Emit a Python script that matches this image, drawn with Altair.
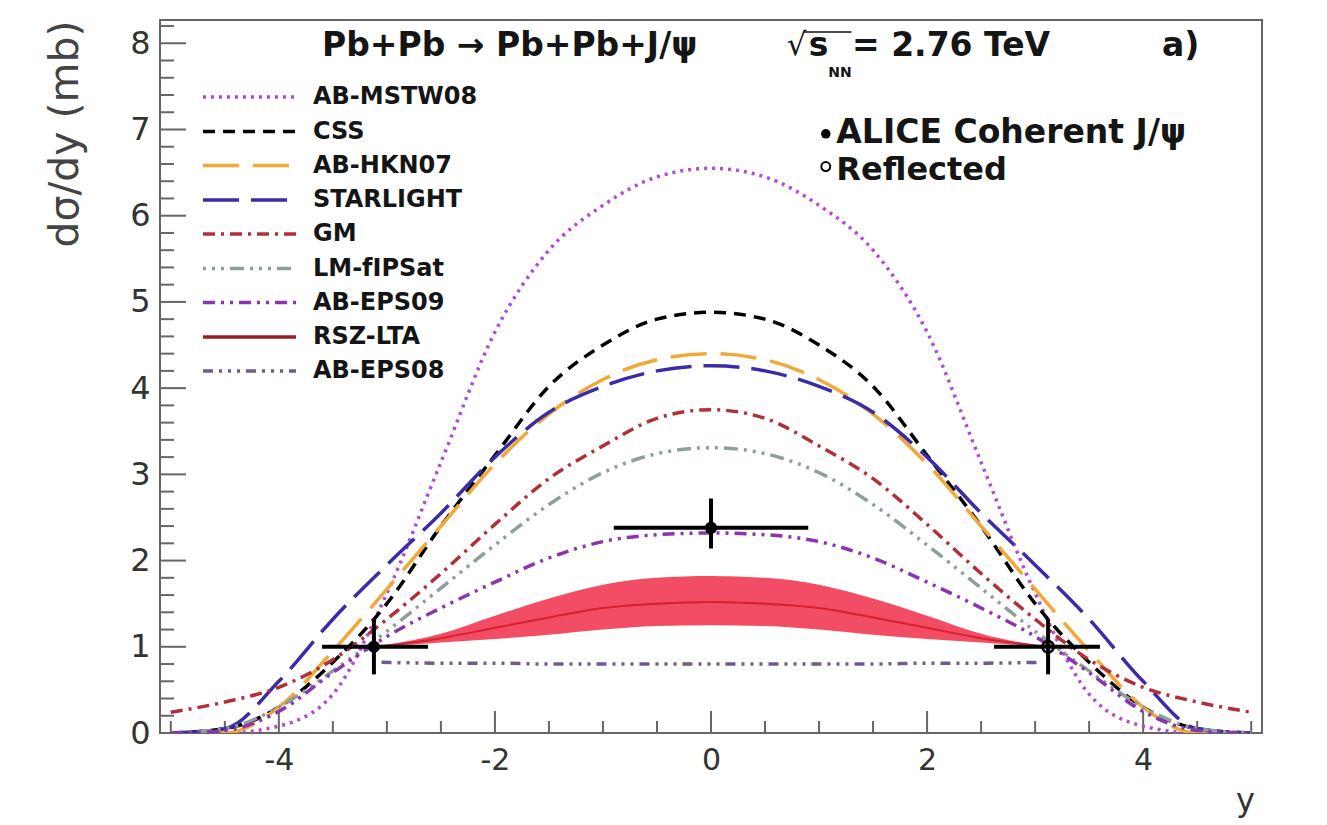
import altair as alt
import pandas as pd

# ---------------- data ----------------
X_DOMAIN = [-5.1, 5.1]
Y_DOMAIN = [0, 8.27]
W, H = 1102, 713

xs = [-5, -4.5, -4, -3.5, -3, -2.5, -2, -1.5, -1, -0.5, 0,
      0.5, 1, 1.5, 2, 2.5, 3, 3.5, 4, 4.5, 5]

ab_mstw08 = [0, 0, 0.08, 0.45, 1.62, 3.14, 4.65, 5.6, 6.12, 6.45, 6.55,
             6.45, 6.12, 5.6, 4.65, 3.14, 1.62, 0.45, 0.08, 0, 0]
css = [0, 0.05, 0.3, 0.82, 1.5, 2.4, 3.22, 4.02, 4.5, 4.8, 4.88,
       4.8, 4.5, 4.02, 3.22, 2.4, 1.5, 0.82, 0.3, 0.05, 0]
ab_hkn07 = [0, 0, 0.3, 0.95, 1.67, 2.4, 3.12, 3.7, 4.1, 4.33, 4.4,
            4.33, 4.1, 3.7, 3.12, 2.4, 1.67, 0.95, 0.3, 0, 0]
starlight = [0, 0.05, 0.6, 1.32, 1.95, 2.55, 3.2, 3.72, 4.02, 4.2, 4.26,
             4.2, 4.02, 3.72, 3.2, 2.55, 1.95, 1.32, 0.6, 0.05, 0]
gm = [0.24, 0.36, 0.53, 0.85, 1.32, 1.85, 2.42, 2.95, 3.33, 3.65, 3.75,
      3.65, 3.33, 2.95, 2.42, 1.85, 1.32, 0.85, 0.53, 0.36, 0.24]
lm_fipsat = [0, 0.05, 0.3, 0.72, 1.18, 1.68, 2.18, 2.65, 3.02, 3.24, 3.31,
             3.24, 3.02, 2.65, 2.18, 1.68, 1.18, 0.72, 0.3, 0.05, 0]
ab_eps09 = [0, 0.03, 0.25, 0.7, 1.12, 1.45, 1.75, 2.03, 2.22, 2.3, 2.32,
            2.3, 2.22, 2.03, 1.75, 1.45, 1.12, 0.7, 0.25, 0.03, 0]

eps08_x = [-3.05, -2.5, -2, -1.5, -1, -0.5, 0, 0.5, 1, 1.5, 2, 2.5, 3.05]
ab_eps08 = [0.82, 0.81, 0.81, 0.8, 0.8, 0.8, 0.8, 0.8, 0.8, 0.8, 0.81, 0.81, 0.82]

rsz_x = [-3.1, -2.5, -2, -1.5, -1, -0.5, 0, 0.5, 1, 1.5, 2, 2.5, 3.1]
rsz_hi = [1.0, 1.15, 1.36, 1.56, 1.72, 1.8, 1.82, 1.8, 1.72, 1.56, 1.36, 1.15, 1.0]
rsz_lo = [1.0, 1.05, 1.09, 1.14, 1.2, 1.24, 1.25, 1.24, 1.2, 1.14, 1.09, 1.05, 1.0]
rsz_mid = [1.0, 1.1, 1.22, 1.34, 1.45, 1.5, 1.52, 1.5, 1.45, 1.34, 1.22, 1.1, 1.0]

# ALICE points: rapidity, value, x-range, value range
alice_y = [0.0, -3.12]
alice_v = [2.38, 1.0]
alice_xlo = [-0.9, -3.6]
alice_xhi = [0.9, -2.62]
alice_vlo = [2.14, 0.68]
alice_vhi = [2.72, 1.32]
refl_y = [3.12]
refl_v = [1.0]
refl_xlo = [2.62]
refl_xhi = [3.6]
refl_vlo = [0.68]
refl_vhi = [1.32]

series_names = ["AB-MSTW08", "CSS", "AB-HKN07", "STARLIGHT", "GM",
                "LM-fIPSat", "AB-EPS09", "RSZ-LTA", "AB-EPS08"]
series_colors = ["#b24ad2", "#000000", "#f0a838", "#3b2ca6", "#b0303a",
                 "#8e9e9c", "#8a34b0", "#9a1c24", "#6e5c8c"]
series_dash = [[3, 5], [12, 8], [36, 14], [36, 12], [12, 6, 3, 6],
               [3, 6, 3, 6, 3, 6, 14, 6], [12, 6, 3, 6, 3, 6], [1, 0],
               [10, 6, 3, 6, 3, 6, 3, 6]]
series_values = [ab_mstw08, css, ab_hkn07, starlight, gm, lm_fipsat, ab_eps09, None, None]

legend_rows = [7.376, 6.976, 6.582, 6.182, 5.787, 5.387, 4.993, 4.593, 4.199]
legend_x1, legend_x2, legend_tx = -4.702, -3.841, -3.684

y_major = [0, 1, 2, 3, 4, 5, 6, 7, 8]
y_minor = [round(i * 0.2, 1) for i in range(42) if i % 5 != 0]
x_major = [-4, -2, 0, 2, 4]
x_minor = [-5, -4.5, -3.5, -3, -2.5, -1.5, -1, -0.5, 0.5, 1, 1.5, 2.5, 3, 3.5, 4.5, 5]

FONT = "DejaVu Sans"
INK = "#151515"

# ---------------- shared scales / axes ----------------
xscale = alt.Scale(domain=X_DOMAIN, nice=False, zero=False)
yscale = alt.Scale(domain=Y_DOMAIN, nice=False, zero=False)

xaxis = alt.Axis(values=x_major, labelExpr="'' + datum.value", labelFontSize=30,
                 labelFont=FONT, labelColor="#333", labelPadding=12, ticks=False,
                 domain=False, grid=False, title="y", titleFontSize=32, titleFont=FONT,
                 titleFontWeight="normal", titleColor="#333", titleX=1085, titleY=67,
                 titleAlign="center", titleBaseline="middle")
yaxis = alt.Axis(values=y_major, labelExpr="'' + datum.value", labelFontSize=32,
                 labelFont=FONT, labelColor="#333", labelPadding=10, ticks=False,
                 domain=False, grid=False, title="dσ/dy (mb)", titleFontSize=41,
                 titleFont=FONT, titleFontWeight="normal", titleColor="#444",
                 titleAngle=270, titleX=-95, titleY=0, titleAlign="right",
                 titleBaseline="middle")


def X(f):
    return alt.X(f, type="quantitative", scale=xscale, axis=xaxis)


def Y(f):
    return alt.Y(f, type="quantitative", scale=yscale, axis=yaxis)


layers = []

# tick marks drawn inside the frame
layers.append(alt.Chart(pd.DataFrame({"v": y_major})).mark_rule(color="#666", strokeWidth=2)
              .encode(y=Y("v"), x=alt.value(0), x2=alt.value(26)))
layers.append(alt.Chart(pd.DataFrame({"v": y_minor})).mark_rule(color="#666", strokeWidth=2)
              .encode(y=Y("v"), x=alt.value(0), x2=alt.value(14)))
layers.append(alt.Chart(pd.DataFrame({"x": x_major})).mark_rule(color="#666", strokeWidth=2)
              .encode(x=X("x"), y=alt.value(H), y2=alt.value(H - 22)))
layers.append(alt.Chart(pd.DataFrame({"x": x_minor})).mark_rule(color="#666", strokeWidth=2)
              .encode(x=X("x"), y=alt.value(H), y2=alt.value(H - 12)))

# RSZ-LTA band
band_df = pd.DataFrame({"x": rsz_x, "lo": rsz_lo, "hi": rsz_hi, "mid": rsz_mid})
layers.append(alt.Chart(band_df).mark_area(color="#f0344e", opacity=0.88, interpolate="monotone")
              .encode(x=X("x"), y=Y("lo"), y2=alt.Y2("hi")))
layers.append(alt.Chart(band_df).mark_line(color="#d8202f", strokeWidth=2, interpolate="monotone")
              .encode(x=X("x"), y=Y("mid")))

# model curves
for name, col, dash, vals in zip(series_names, series_colors, series_dash, series_values):
    if vals is None:
        continue
    df = pd.DataFrame({"x": xs, "v": vals})
    layers.append(alt.Chart(df).mark_line(color=col, strokeDash=dash, strokeWidth=3.5,
                                          interpolate="monotone", clip=True)
                  .encode(x=X("x"), y=Y("v")))
eps08_df = pd.DataFrame({"x": eps08_x, "v": ab_eps08})
layers.append(alt.Chart(eps08_df).mark_line(color=series_colors[8], strokeDash=series_dash[8],
                                            strokeWidth=3.5, interpolate="monotone")
              .encode(x=X("x"), y=Y("v")))

# legend samples + labels
for name, col, dash, ry in zip(series_names, series_colors, series_dash, legend_rows):
    ldf = pd.DataFrame({"x1": [legend_x1], "x2": [legend_x2], "v": [ry]})
    layers.append(alt.Chart(ldf).mark_rule(color=col, strokeDash=dash, strokeWidth=3.5)
                  .encode(x=X("x1"), x2=alt.X2("x2"), y=Y("v")))
lab_df = pd.DataFrame({"name": series_names, "v": legend_rows, "x": [legend_tx] * 9})
layers.append(alt.Chart(lab_df).mark_text(align="left", baseline="middle", fontSize=24,
                                          font=FONT, fontWeight="bold", color=INK)
              .encode(x=X("x"), y=Y("v"), text="name:N"))

# ALICE data
pts = pd.DataFrame({"x": alice_y, "v": alice_v, "xlo": alice_xlo, "xhi": alice_xhi,
                    "vlo": alice_vlo, "vhi": alice_vhi})
rpts = pd.DataFrame({"x": refl_y, "v": refl_v, "xlo": refl_xlo, "xhi": refl_xhi,
                     "vlo": refl_vlo, "vhi": refl_vhi})
for d in (pts, rpts):
    layers.append(alt.Chart(d).mark_rule(color="#000", strokeWidth=4)
                  .encode(x=X("xlo"), x2=alt.X2("xhi"), y=Y("v")))
    layers.append(alt.Chart(d).mark_rule(color="#000", strokeWidth=4)
                  .encode(x=X("x"), y=Y("vlo"), y2=alt.Y2("vhi")))
layers.append(alt.Chart(pts).mark_point(shape="circle", filled=True, color="#000", size=150, opacity=1)
              .encode(x=X("x"), y=Y("v")))
layers.append(alt.Chart(rpts).mark_point(shape="circle", filled=False, color="#000", size=130,
                                         strokeWidth=2.5, opacity=1)
              .encode(x=X("x"), y=Y("v")))

# ALICE legend
al_df = pd.DataFrame({"x": [1.0625], "v": [6.95]})
layers.append(alt.Chart(al_df).mark_point(shape="circle", filled=True, color="#000", size=90, opacity=1)
              .encode(x=X("x"), y=Y("v")))
rl_df = pd.DataFrame({"x": [1.0625], "v": [6.57]})
layers.append(alt.Chart(rl_df).mark_point(shape="circle", filled=False, color="#000", size=80,
                                          strokeWidth=2, opacity=1)
              .encode(x=X("x"), y=Y("v")))
leg2_df = pd.DataFrame({"x": [1.16], "v": [6.958], "t": ["ALICE Coherent J/ψ"]})
layers.append(alt.Chart(leg2_df).mark_text(align="left", baseline="middle", fontSize=33,
                                           font=FONT, fontWeight="bold", color=INK)
              .encode(x=X("x"), y=Y("v"), text="t:N"))
leg3_df = pd.DataFrame({"x": [1.16], "v": [6.53], "t": ["Reflected"]})
layers.append(alt.Chart(leg3_df).mark_text(align="left", baseline="middle", fontSize=32,
                                           font=FONT, fontWeight="bold", color=INK)
              .encode(x=X("x"), y=Y("v"), text="t:N"))

# title pieces
title_df = pd.DataFrame({
    "x": [-3.60, 1.305, 4.174],
    "v": [7.968, 7.968, 7.968],
    "t": ["Pb+Pb → Pb+Pb+J/ψ", "= 2.76 TeV", "a)"],
})
layers.append(alt.Chart(title_df).mark_text(align="left", baseline="middle", fontSize=33,
                                            font=FONT, fontWeight="bold", color=INK)
              .encode(x=X("x"), y=Y("v"), text="t:N"))
root_df = pd.DataFrame({"x": [0.70], "v": [7.968], "t": ["√"]})
layers.append(alt.Chart(root_df).mark_text(align="left", baseline="middle", fontSize=31,
                                           font=FONT, fontWeight="normal", color=INK)
              .encode(x=X("x"), y=Y("v"), text="t:N"))
s_df = pd.DataFrame({"x": [0.905], "v": [7.968], "t": ["s"]})
layers.append(alt.Chart(s_df).mark_text(align="left", baseline="middle", fontSize=33,
                                        font=FONT, fontWeight="bold", color=INK)
              .encode(x=X("x"), y=Y("v"), text="t:N"))
sub_df = pd.DataFrame({"x": [1.085], "v": [7.66], "t": ["NN"]})
layers.append(alt.Chart(sub_df).mark_text(align="left", baseline="middle", fontSize=14,
                                          font=FONT, fontWeight="bold", color=INK)
              .encode(x=X("x"), y=Y("v"), text="t:N"))
bar_df = pd.DataFrame({"x1": [0.86], "x2": [1.30], "v": [8.13]})
layers.append(alt.Chart(bar_df).mark_rule(color=INK, strokeWidth=1.5)
              .encode(x=X("x1"), x2=alt.X2("x2"), y=Y("v")))

chart = alt.layer(*layers).properties(
    width=W, height=H,
    autosize=alt.AutoSizeParams(type="none"),
    padding={"left": 160, "top": 20, "right": 65, "bottom": 92},
    background="white",
).configure_view(stroke="#666", strokeWidth=2)

chart.save("out.html", embed_options={"renderer": "svg", "actions": False})
